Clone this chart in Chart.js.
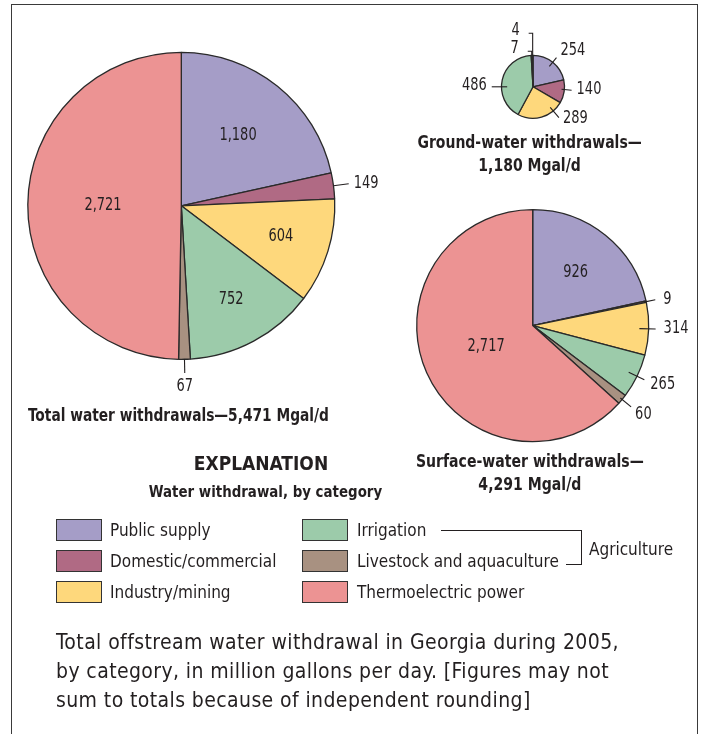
<!DOCTYPE html>
<html>
<head>
<meta charset="utf-8">
<title>Total offstream water withdrawal in Georgia, 2005</title>
<script src="https://cdn.jsdelivr.net/npm/chart.js@4.4.1/dist/chart.umd.min.js"></script>
<style>
html,body{margin:0;padding:0;background:#fff;}
body{width:702px;height:734px;position:relative;overflow:hidden;
  font-family:"Liberation Sans Narrow","DejaVu Sans Condensed","Arial Narrow",sans-serif;color:#231f20;}
#frame{position:absolute;left:11px;top:4px;width:687px;height:780px;border:1.5px solid #3a3a3a;box-sizing:border-box;}
.cv{position:absolute;left:0;top:0;}
.t{position:absolute;white-space:nowrap;}
.b{font-weight:bold;}
.ctr{text-align:center;}
.sx{display:inline-block;}
.sw{position:absolute;width:46px;height:22px;box-sizing:border-box;border:1.5px solid #333;}
.ln{position:absolute;background:#231f20;}
</style>
</head>
<body>
<div id="frame"></div>
<canvas id="cTotal" class="cv" width="702" height="734"></canvas>
<canvas id="cGround" class="cv" width="702" height="734"></canvas>
<canvas id="cSurface" class="cv" width="702" height="734"></canvas>

<div class="t b" style="left:28px;top:404px;font-size:17px;line-height:22px;"><span class="sx" style="transform:scaleX(0.9);transform-origin:left center;">Total water withdrawals—5,471 Mgal/d</span></div>
<div class="t b ctr" style="left:380px;width:300px;top:131px;font-size:17px;line-height:23px;"><span class="sx" style="transform:scaleX(0.915);transform-origin:center center;">Ground-water withdrawals—<br>1,180 Mgal/d</span></div>
<div class="t b ctr" style="left:380px;width:300px;top:450px;font-size:17px;line-height:23px;"><span class="sx" style="transform:scaleX(0.92);transform-origin:center center;">Surface-water withdrawals—<br>4,291 Mgal/d</span></div>
<div class="t b ctr" style="left:161px;width:200px;top:451px;font-size:19px;line-height:24px;">EXPLANATION</div>
<div class="t b ctr" style="left:115px;width:300px;top:481px;font-size:16px;line-height:22px;"><span class="sx" style="transform:scaleX(0.93);transform-origin:center center;">Water withdrawal, by category</span></div>
<div id="legend"></div>
<div class="ln" style="left:441px;top:530px;width:141px;height:1.2px;"></div>
<div class="ln" style="left:581px;top:530px;width:1.2px;height:34.5px;"></div>
<div class="ln" style="left:566px;top:563.5px;width:16px;height:1.2px;"></div>
<div class="t" style="left:589px;top:538px;font-size:17px;line-height:22px;">Agriculture</div>
<div class="t" style="left:56px;top:628px;font-size:21px;line-height:29px;letter-spacing:0.4px;">Total offstream water withdrawal in Georgia during 2005,<br>by category, in million gallons per day. [Figures may not<br>sum to totals because of independent rounding]</div>

<script>
// ---------------- data ----------------
const categories = ['Public supply', 'Domestic/commercial', 'Industry/mining',
                    'Irrigation', 'Livestock and aquaculture', 'Thermoelectric power'];
const totalValues   = [1180, 149, 604, 752, 67, 2721];
const groundValues  = [254, 140, 289, 486, 7, 4];
const surfaceValues = [926, 9, 314, 265, 60, 2717];
const sliceColors = ['#a59dc7', '#b06a84', '#fed87c', '#9ccbaa', '#a89181', '#ec9393'];

// ---------------- label layout (per slice) ----------------
const totalLabels = [
  {type:'in', f:0.59},
  {type:'out', r0:1.0, r1:1.1, gap:5, dy:0},
  {type:'in', f:0.68},
  {type:'in', f:0.69},
  {type:'out', r0:1.0, r1:1.09, gap:13, dy:0},
  {type:'in', f:0.51}
];
const groundLabels = [
  {type:'out', r0:0.83, r1:1.19, gap:4, dy:-7},
  {type:'out', r0:0.91, r1:1.23, gap:5, dy:-1, dir:95},
  {type:'out', r0:0.85, r1:1.28, gap:4, dy:1, dir:140},
  {type:'out', r0:0.82, r1:1.31, gap:5, dy:-1, dir:270},
  {type:'bracket', rise:4, gap:9, dy:-3},
  {type:'bracket', rise:22, gap:9, dy:-3}
];
const surfaceLabels = [
  {type:'in', f:0.59},
  {type:'out', r0:0.98, r1:1.08, gap:8, dy:0},
  {type:'out', r0:0.92, r1:1.06, gap:8, dy:0},
  {type:'out', r0:0.92, r1:1.07, gap:6, dy:5},
  {type:'out', r0:0.98, r1:1.1, gap:4, dy:8},
  {type:'in', f:0.44}
];

const LABEL_FONT = '17px "Liberation Sans Narrow", "DejaVu Sans Condensed", "Arial Narrow", sans-serif';
const LABEL_SX = 0.85;
const INK = '#231f20';

function fillScaled(ctx, text, x, y, align) {
  ctx.save();
  ctx.translate(x, y);
  ctx.scale(LABEL_SX, 1);
  ctx.textAlign = align;
  ctx.textBaseline = 'middle';
  ctx.fillText(text, 0, 0);
  ctx.restore();
}

const sliceLabelPlugin = {
  id: 'sliceLabels',
  afterDatasetsDraw(chart, args, opts) {
    const ctx = chart.ctx;
    const meta = chart.getDatasetMeta(0);
    const values = chart.data.datasets[0].data;
    const specs = opts.specs || [];
    ctx.save();
    ctx.font = LABEL_FONT;
    ctx.fillStyle = INK;
    ctx.strokeStyle = INK;
    ctx.lineWidth = 1.1;
    meta.data.forEach((arc, i) => {
      const s = specs[i];
      if (!s) return;
      const p = arc.getProps(['x', 'y', 'startAngle', 'endAngle', 'outerRadius'], true);
      const cx = p.x, cy = p.y, r = p.outerRadius;
      const mid = (p.startAngle + p.endAngle) / 2;
      const text = values[i].toLocaleString('en-US');
      if (s.type === 'in') {
        fillScaled(ctx, text, cx + Math.cos(mid) * r * s.f, cy + Math.sin(mid) * r * s.f, 'center');
      } else if (s.type === 'out') {
        const a = (s.dir !== undefined) ? (s.dir - 90) * Math.PI / 180 : mid;
        const x1 = cx + Math.cos(a) * r * s.r0, y1 = cy + Math.sin(a) * r * s.r0;
        const x2 = cx + Math.cos(a) * r * s.r1, y2 = cy + Math.sin(a) * r * s.r1;
        ctx.beginPath(); ctx.moveTo(x1, y1); ctx.lineTo(x2, y2); ctx.stroke();
        const c = Math.cos(a);
        if (c > 0.3) {
          fillScaled(ctx, text, x2 + s.gap, y2 + s.dy, 'left');
        } else if (c < -0.3) {
          fillScaled(ctx, text, x2 - s.gap, y2 + s.dy, 'right');
        } else {
          const sy = Math.sin(a) >= 0 ? 1 : -1;
          fillScaled(ctx, text, x2, y2 + sy * s.gap + s.dy, 'center');
        }
      } else if (s.type === 'bracket') {
        const xe = cx + Math.cos(mid) * r, ye = cy + Math.sin(mid) * r;
        const yt = cy - r - s.rise;
        ctx.beginPath();
        ctx.moveTo(xe, ye); ctx.lineTo(xe, yt); ctx.lineTo(xe - 4, yt);
        ctx.stroke();
        fillScaled(ctx, text, xe - 4 - s.gap, yt + s.dy, 'right');
      }
    });
    ctx.restore();
  }
};

const W = 702, H = 734;
const BORDER_W = 1.3;
function makePie(id, values, specs, cx, cy, r) {
  const side = 2 * r + BORDER_W;
  const left = cx - side / 2, top = cy - side / 2;
  return new Chart(document.getElementById(id), {
    type: 'pie',
    data: {
      labels: categories,
      datasets: [{
        data: values,
        backgroundColor: sliceColors,
        borderColor: '#2a2a2a',
        borderWidth: BORDER_W
      }]
    },
    options: {
      responsive: false,
      animation: false,
      events: [],
      devicePixelRatio: 1,
      layout: { padding: { left: left, top: top, right: W - left - side, bottom: H - top - side } },
      plugins: {
        legend: { display: false },
        tooltip: { enabled: false },
        sliceLabels: { specs: specs }
      }
    },
    plugins: [sliceLabelPlugin]
  });
}

// legend (HTML), built from categories and colors
(function buildLegend() {
  const lg = document.getElementById('legend');
  const cols = [{sw: 56, tx: 110}, {sw: 302, tx: 357}];
  const rowCenters = [530, 561, 592];
  categories.forEach((name, i) => {
    const col = cols[Math.floor(i / 3)];
    const yc = rowCenters[i % 3];
    const sw = document.createElement('div');
    sw.className = 'sw';
    sw.style.left = col.sw + 'px';
    sw.style.top = (yc - 11) + 'px';
    sw.style.background = sliceColors[i];
    lg.appendChild(sw);
    const tx = document.createElement('div');
    tx.className = 't';
    tx.style.left = col.tx + 'px';
    tx.style.top = (yc - 11) + 'px';
    tx.style.fontSize = '17px';
    tx.style.lineHeight = '22px';
    tx.textContent = name;
    lg.appendChild(tx);
  });
})();

function draw() {
  makePie('cTotal', totalValues, totalLabels, 181.3, 205.8, 153.5);
  makePie('cGround', groundValues, groundLabels, 533, 86.8, 31.5);
  makePie('cSurface', surfaceValues, surfaceLabels, 532.7, 325.6, 116);
}
if (document.fonts && document.fonts.load) {
  document.fonts.load(LABEL_FONT).then(draw, draw);
} else { draw(); }
</script>
</body>
</html>
